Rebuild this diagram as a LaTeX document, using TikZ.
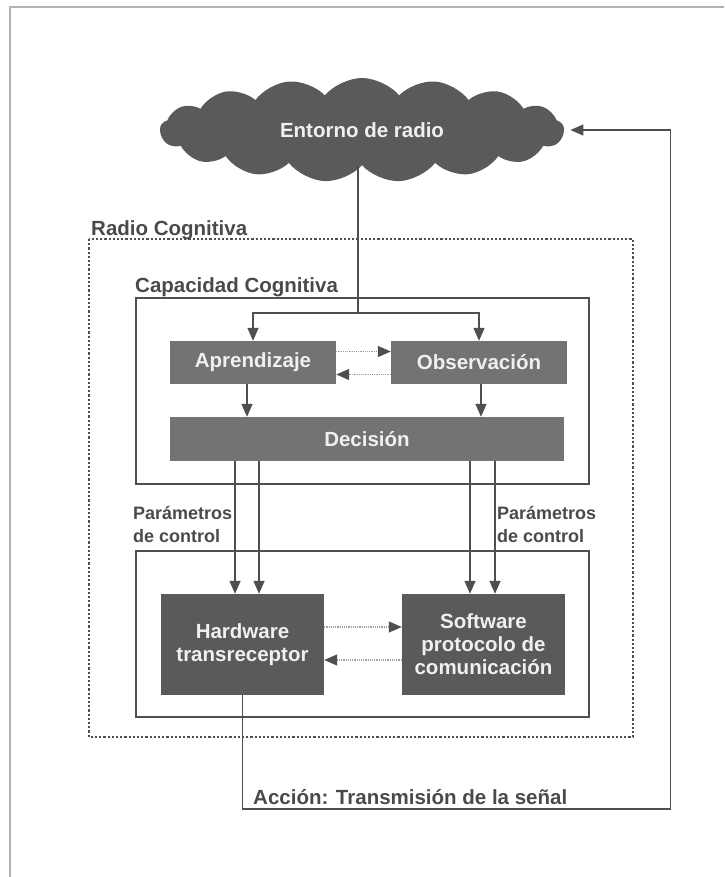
\documentclass[tikz,border=0pt]{standalone}
\usepackage{fontspec}
\setmainfont{Liberation Sans}
\usepackage{xcolor}
\usetikzlibrary{shapes.symbols,arrows.meta,positioning}

\definecolor{boxgray}{HTML}{727375}
\definecolor{darkbox}{HTML}{595A5C}
\definecolor{linegray}{HTML}{4F4F4F}
\definecolor{labelgray}{HTML}{4A4A4A}

\tikzset{
    cogbox/.style={fill=boxgray, text=white!94!black, font=\fontsize{20.5}{23}\selectfont\bfseries, inner sep=0pt},
    hwbox/.style={fill=darkbox, text=white!94!black, font=\fontsize{20.5}{23}\selectfont\bfseries, inner sep=0pt, minimum width=163pt, minimum height=101pt, align=center},
    lbl/.style={text=labelgray, font=\fontsize{20.5}{23}\selectfont\bfseries, inner sep=0pt},
    smalllbl/.style={text=labelgray, font=\fontsize{18}{23}\selectfont\bfseries, inner sep=0pt, align=left},
    conn/.style={draw=linegray, line width=1.4pt, -{Triangle[length=13pt,width=11pt]}},
    dotconn/.style={draw=gray!75, line width=1.2pt, densely dotted, -{Triangle[length=13pt,width=11pt,color=linegray]}}
}

\begin{document}
\begin{tikzpicture}[x=1pt, y=-1pt]
    \useasboundingbox (0,0) rectangle (724,877);
    \draw [gray!60, line width=1.2pt] (10,877) -- (10,7) -- (724,7);

    % entorno
    \node[cloud, cloud puffs=17, cloud puff arc=100, aspect=3.8, fill=darkbox, text=white!94!black,
          minimum width=404pt, minimum height=104pt, inner sep=0pt,
          font=\fontsize{20.5}{23}\selectfont\bfseries] (env) at (362,130) {Entorno de radio};

    % radio cognitiva
    \draw [linegray, dotted, line width=2.2pt] (89,239) rectangle (633,737);
    \node[lbl, anchor=base west] (rclbl) at (91,236) {Radio Cognitiva};

    % capacidad cognitiva
    \draw [linegray, line width=1.4pt] (136,298) rectangle (589,484);
    \node[lbl, anchor=base west] (cclbl) at (135,292) {Capacidad Cognitiva};
    \node[cogbox, minimum width=166pt, minimum height=43pt] (apr) at (253,362.5) {Aprendizaje};
    \node[cogbox, minimum width=176pt, minimum height=43pt] (obs) at (479,362.5) {Observación};
    \node[cogbox, minimum width=394pt, minimum height=44pt] (dec) at (367,439) {Decisión};

    % hardware / software
    \draw [linegray, line width=1.4pt] (136,551) rectangle (589,717);
    \node[hwbox] (hw) at (242.5,644.5) {Hardware\\transreceptor};
    \node[hwbox] (sw) at (483.5,644.5) {Software\\protocolo de\\comunicación};

    \node[smalllbl, anchor=west] (parl) at (133,524.5) {Parámetros\\de control};
    \node[smalllbl, anchor=west] (parr) at (497,524.5) {Parámetros\\de control};

    % conexiones
    \coordinate (split) at (358,313);
    \draw [linegray, line width=1.4pt] (env.south -| split) -- (split);
    \draw [conn] (split) -| (apr.north);
    \draw [conn] (split) -| (obs.north);
    \draw [dotconn] ([yshift=11pt]apr.east) -- ([yshift=11pt]apr.east -| obs.west);
    \draw [dotconn] ([yshift=-12pt]obs.west) -- ([yshift=-12pt]obs.west -| apr.east);
    \draw [conn] ([xshift=-6pt]apr.south) -- ([xshift=-6pt]apr.south |- dec.north);
    \draw [conn] ([xshift=2pt]obs.south) -- ([xshift=2pt]obs.south |- dec.north);
    \foreach \dx in {-7.5,16.5}
        \draw [conn] ([xshift=\dx pt]hw.north |- dec.south) -- ([xshift=\dx pt]hw.north);
    \foreach \dx in {-13.5,11.5}
        \draw [conn] ([xshift=\dx pt]sw.north |- dec.south) -- ([xshift=\dx pt]sw.north);
    \draw [dotconn] ([yshift=17.5pt]hw.east) -- ([yshift=17.5pt]hw.east -| sw.west);
    \draw [dotconn] ([yshift=-15.5pt]sw.west) -- ([yshift=-15.5pt]sw.west -| hw.east);

    % accion
    \coordinate (ret) at (670.5,809);
    \draw [conn] (hw.south) |- (ret) |- ([xshift=6pt]env.east);
    \node[lbl, anchor=west] (act) at (253,797) {Acción: Transmisión de la señal};
\end{tikzpicture}
\end{document}
